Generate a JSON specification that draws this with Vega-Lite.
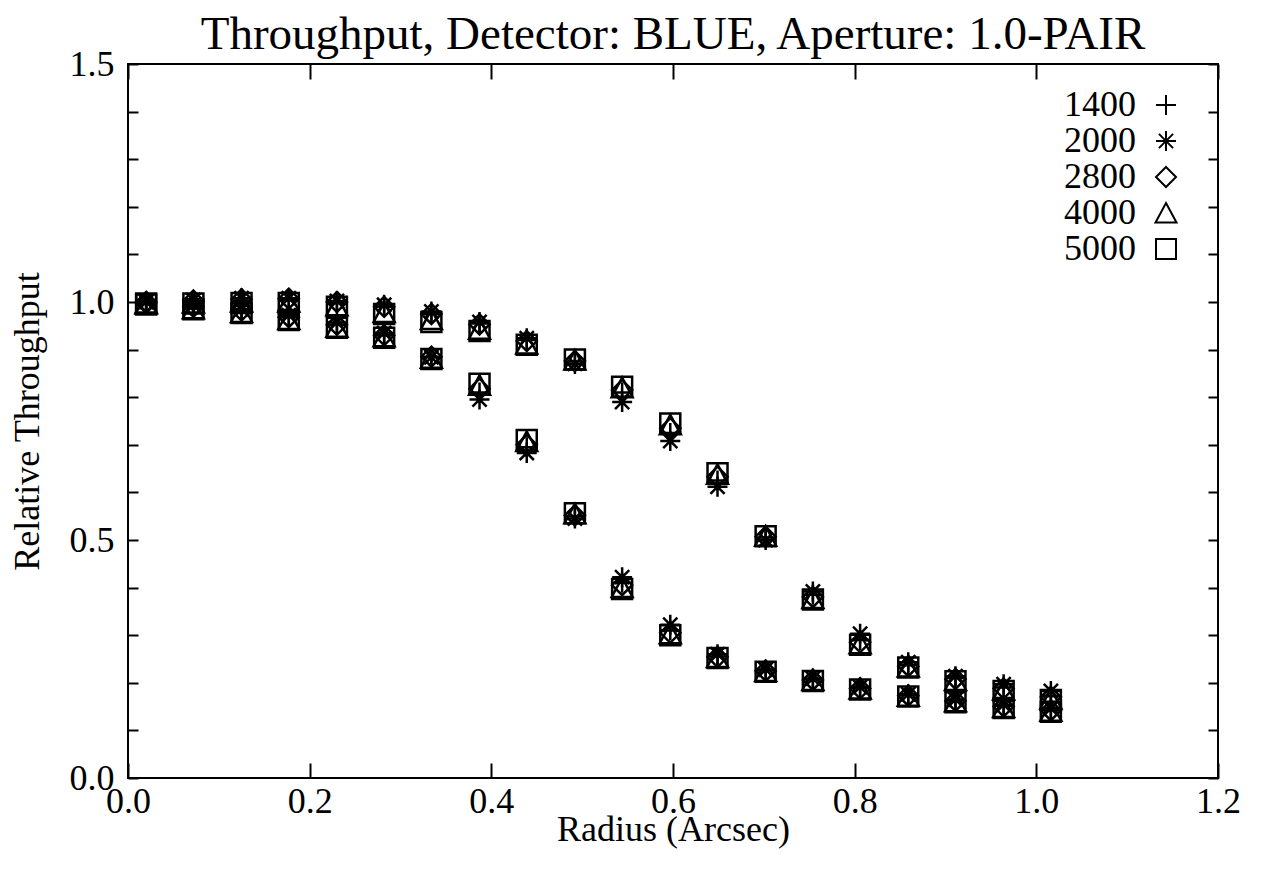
{
  "$schema": "https://vega.github.io/schema/vega-lite/v6.json",
  "width": 1090,
  "height": 714,
  "autosize": {"type": "none"},
  "padding": {"left": 128, "top": 64, "right": 47, "bottom": 93},
  "background": "white",
  "title": {"text": "Throughput, Detector: BLUE, Aperture: 1.0-PAIR", "font": "Liberation Serif", "fontSize": 47, "fontWeight": "normal", "color": "black", "anchor": "middle", "baseline": "alphabetic", "offset": 14, "dy": 64},
  "config": {
    "view": {"stroke": "black", "strokeWidth": 2},
    "axis": {"domain": false, "grid": false, "labelFont": "Liberation Serif", "labelFontSize": 36, "labelColor": "black", "tickColor": "black", "tickWidth": 2, "titleFont": "Liberation Serif", "titleFontSize": 36, "titleFontWeight": "normal", "titleColor": "black", "labelFlush": false, "labelOverlap": false}
  },
  "data": {"values": [
    {"r":0.020,"s":"a","w":"1400","t":1.0},{"r":0.020,"s":"a","w":"2000","t":1.002},{"r":0.020,"s":"a","w":"2800","t":1.0},{"r":0.020,"s":"a","w":"4000","t":0.998},{"r":0.020,"s":"a","w":"5000","t":0.997},
    {"r":0.020,"s":"b","w":"1400","t":0.998},{"r":0.020,"s":"b","w":"2000","t":1.0},{"r":0.020,"s":"b","w":"2800","t":0.998},{"r":0.020,"s":"b","w":"4000","t":0.996},{"r":0.020,"s":"b","w":"5000","t":0.995},
    {"r":0.072,"s":"a","w":"1400","t":1.0},{"r":0.072,"s":"a","w":"2000","t":1.004},{"r":0.072,"s":"a","w":"2800","t":1.003},{"r":0.072,"s":"a","w":"4000","t":0.998},{"r":0.072,"s":"a","w":"5000","t":0.997},
    {"r":0.072,"s":"b","w":"1400","t":0.99},{"r":0.072,"s":"b","w":"2000","t":0.993},{"r":0.072,"s":"b","w":"2800","t":0.99},{"r":0.072,"s":"b","w":"4000","t":0.986},{"r":0.072,"s":"b","w":"5000","t":0.985},
    {"r":0.125,"s":"a","w":"1400","t":1.003},{"r":0.125,"s":"a","w":"2000","t":1.008},{"r":0.125,"s":"a","w":"2800","t":1.006},{"r":0.125,"s":"a","w":"4000","t":1.0},{"r":0.125,"s":"a","w":"5000","t":0.998},
    {"r":0.125,"s":"b","w":"1400","t":0.982},{"r":0.125,"s":"b","w":"2000","t":0.985},{"r":0.125,"s":"b","w":"2800","t":0.982},{"r":0.125,"s":"b","w":"4000","t":0.978},{"r":0.125,"s":"b","w":"5000","t":0.977},
    {"r":0.177,"s":"a","w":"1400","t":1.004},{"r":0.177,"s":"a","w":"2000","t":1.008},{"r":0.177,"s":"a","w":"2800","t":1.007},{"r":0.177,"s":"a","w":"4000","t":1.0},{"r":0.177,"s":"a","w":"5000","t":0.998},
    {"r":0.177,"s":"b","w":"1400","t":0.968},{"r":0.177,"s":"b","w":"2000","t":0.972},{"r":0.177,"s":"b","w":"2800","t":0.968},{"r":0.177,"s":"b","w":"4000","t":0.963},{"r":0.177,"s":"b","w":"5000","t":0.962},
    {"r":0.230,"s":"a","w":"1400","t":0.998},{"r":0.230,"s":"a","w":"2000","t":1.002},{"r":0.230,"s":"a","w":"2800","t":1.0},{"r":0.230,"s":"a","w":"4000","t":0.992},{"r":0.230,"s":"a","w":"5000","t":0.99},
    {"r":0.230,"s":"b","w":"1400","t":0.952},{"r":0.230,"s":"b","w":"2000","t":0.957},{"r":0.230,"s":"b","w":"2800","t":0.952},{"r":0.230,"s":"b","w":"4000","t":0.947},{"r":0.230,"s":"b","w":"5000","t":0.946},
    {"r":0.282,"s":"a","w":"1400","t":0.99},{"r":0.282,"s":"a","w":"2000","t":0.994},{"r":0.282,"s":"a","w":"2800","t":0.99},{"r":0.282,"s":"a","w":"4000","t":0.978},{"r":0.282,"s":"a","w":"5000","t":0.975},
    {"r":0.282,"s":"b","w":"1400","t":0.93},{"r":0.282,"s":"b","w":"2000","t":0.935},{"r":0.282,"s":"b","w":"2800","t":0.93},{"r":0.282,"s":"b","w":"4000","t":0.927},{"r":0.282,"s":"b","w":"5000","t":0.925},
    {"r":0.334,"s":"a","w":"1400","t":0.975},{"r":0.334,"s":"a","w":"2000","t":0.98},{"r":0.334,"s":"a","w":"2800","t":0.975},{"r":0.334,"s":"a","w":"4000","t":0.963},{"r":0.334,"s":"a","w":"5000","t":0.958},
    {"r":0.334,"s":"b","w":"1400","t":0.885},{"r":0.334,"s":"b","w":"2000","t":0.884},{"r":0.334,"s":"b","w":"2800","t":0.885},{"r":0.334,"s":"b","w":"4000","t":0.882},{"r":0.334,"s":"b","w":"5000","t":0.88},
    {"r":0.387,"s":"a","w":"1400","t":0.955},{"r":0.387,"s":"a","w":"2000","t":0.958},{"r":0.387,"s":"a","w":"2800","t":0.953},{"r":0.387,"s":"a","w":"4000","t":0.943},{"r":0.387,"s":"a","w":"5000","t":0.939},
    {"r":0.387,"s":"b","w":"1400","t":0.81},{"r":0.387,"s":"b","w":"2000","t":0.795},{"r":0.387,"s":"b","w":"2800","t":0.818},{"r":0.387,"s":"b","w":"4000","t":0.825},{"r":0.387,"s":"b","w":"5000","t":0.828},
    {"r":0.439,"s":"a","w":"1400","t":0.92},{"r":0.439,"s":"a","w":"2000","t":0.924},{"r":0.439,"s":"a","w":"2800","t":0.918},{"r":0.439,"s":"a","w":"4000","t":0.912},{"r":0.439,"s":"a","w":"5000","t":0.91},
    {"r":0.439,"s":"b","w":"1400","t":0.695},{"r":0.439,"s":"b","w":"2000","t":0.683},{"r":0.439,"s":"b","w":"2800","t":0.70},{"r":0.439,"s":"b","w":"4000","t":0.707},{"r":0.439,"s":"b","w":"5000","t":0.71},
    {"r":0.492,"s":"a","w":"1400","t":0.875},{"r":0.492,"s":"a","w":"2000","t":0.87},{"r":0.492,"s":"a","w":"2800","t":0.876},{"r":0.492,"s":"a","w":"4000","t":0.878},{"r":0.492,"s":"a","w":"5000","t":0.879},
    {"r":0.492,"s":"b","w":"1400","t":0.55},{"r":0.492,"s":"b","w":"2000","t":0.545},{"r":0.492,"s":"b","w":"2800","t":0.552},{"r":0.492,"s":"b","w":"4000","t":0.555},{"r":0.492,"s":"b","w":"5000","t":0.556},
    {"r":0.544,"s":"a","w":"1400","t":0.81},{"r":0.544,"s":"a","w":"2000","t":0.79},{"r":0.544,"s":"a","w":"2800","t":0.815},{"r":0.544,"s":"a","w":"4000","t":0.82},{"r":0.544,"s":"a","w":"5000","t":0.822},
    {"r":0.544,"s":"b","w":"1400","t":0.41},{"r":0.544,"s":"b","w":"2000","t":0.422},{"r":0.544,"s":"b","w":"2800","t":0.405},{"r":0.544,"s":"b","w":"4000","t":0.40},{"r":0.544,"s":"b","w":"5000","t":0.397},
    {"r":0.597,"s":"a","w":"1400","t":0.725},{"r":0.597,"s":"a","w":"2000","t":0.708},{"r":0.597,"s":"a","w":"2800","t":0.735},{"r":0.597,"s":"a","w":"4000","t":0.742},{"r":0.597,"s":"a","w":"5000","t":0.745},
    {"r":0.597,"s":"b","w":"1400","t":0.31},{"r":0.597,"s":"b","w":"2000","t":0.322},{"r":0.597,"s":"b","w":"2800","t":0.305},{"r":0.597,"s":"b","w":"4000","t":0.303},{"r":0.597,"s":"b","w":"5000","t":0.30},
    {"r":0.649,"s":"a","w":"1400","t":0.625},{"r":0.649,"s":"a","w":"2000","t":0.612},{"r":0.649,"s":"a","w":"2800","t":0.633},{"r":0.649,"s":"a","w":"4000","t":0.638},{"r":0.649,"s":"a","w":"5000","t":0.64},
    {"r":0.649,"s":"b","w":"1400","t":0.255},{"r":0.649,"s":"b","w":"2000","t":0.26},{"r":0.649,"s":"b","w":"2800","t":0.254},{"r":0.649,"s":"b","w":"4000","t":0.253},{"r":0.649,"s":"b","w":"5000","t":0.252},
    {"r":0.702,"s":"a","w":"1400","t":0.505},{"r":0.702,"s":"a","w":"2000","t":0.50},{"r":0.702,"s":"a","w":"2800","t":0.507},{"r":0.702,"s":"a","w":"4000","t":0.508},{"r":0.702,"s":"a","w":"5000","t":0.508},
    {"r":0.702,"s":"b","w":"1400","t":0.226},{"r":0.702,"s":"b","w":"2000","t":0.228},{"r":0.702,"s":"b","w":"2800","t":0.225},{"r":0.702,"s":"b","w":"4000","t":0.224},{"r":0.702,"s":"b","w":"5000","t":0.223},
    {"r":0.754,"s":"a","w":"1400","t":0.385},{"r":0.754,"s":"a","w":"2000","t":0.392},{"r":0.754,"s":"a","w":"2800","t":0.38},{"r":0.754,"s":"a","w":"4000","t":0.377},{"r":0.754,"s":"a","w":"5000","t":0.375},
    {"r":0.754,"s":"b","w":"1400","t":0.207},{"r":0.754,"s":"b","w":"2000","t":0.209},{"r":0.754,"s":"b","w":"2800","t":0.206},{"r":0.754,"s":"b","w":"4000","t":0.205},{"r":0.754,"s":"b","w":"5000","t":0.204},
    {"r":0.806,"s":"a","w":"1400","t":0.29},{"r":0.806,"s":"a","w":"2000","t":0.303},{"r":0.806,"s":"a","w":"2800","t":0.285},{"r":0.806,"s":"a","w":"4000","t":0.282},{"r":0.806,"s":"a","w":"5000","t":0.28},
    {"r":0.806,"s":"b","w":"1400","t":0.189},{"r":0.806,"s":"b","w":"2000","t":0.191},{"r":0.806,"s":"b","w":"2800","t":0.188},{"r":0.806,"s":"b","w":"4000","t":0.187},{"r":0.806,"s":"b","w":"5000","t":0.186},
    {"r":0.859,"s":"a","w":"1400","t":0.237},{"r":0.859,"s":"a","w":"2000","t":0.243},{"r":0.859,"s":"a","w":"2800","t":0.235},{"r":0.859,"s":"a","w":"4000","t":0.233},{"r":0.859,"s":"a","w":"5000","t":0.232},
    {"r":0.859,"s":"b","w":"1400","t":0.174},{"r":0.859,"s":"b","w":"2000","t":0.176},{"r":0.859,"s":"b","w":"2800","t":0.173},{"r":0.859,"s":"b","w":"4000","t":0.172},{"r":0.859,"s":"b","w":"5000","t":0.171},
    {"r":0.911,"s":"a","w":"1400","t":0.21},{"r":0.911,"s":"a","w":"2000","t":0.214},{"r":0.911,"s":"a","w":"2800","t":0.208},{"r":0.911,"s":"a","w":"4000","t":0.205},{"r":0.911,"s":"a","w":"5000","t":0.203},
    {"r":0.911,"s":"b","w":"1400","t":0.163},{"r":0.911,"s":"b","w":"2000","t":0.165},{"r":0.911,"s":"b","w":"2800","t":0.162},{"r":0.911,"s":"b","w":"4000","t":0.16},{"r":0.911,"s":"b","w":"5000","t":0.159},
    {"r":0.964,"s":"a","w":"1400","t":0.19},{"r":0.964,"s":"a","w":"2000","t":0.197},{"r":0.964,"s":"a","w":"2800","t":0.188},{"r":0.964,"s":"a","w":"4000","t":0.185},{"r":0.964,"s":"a","w":"5000","t":0.183},
    {"r":0.964,"s":"b","w":"1400","t":0.152},{"r":0.964,"s":"b","w":"2000","t":0.154},{"r":0.964,"s":"b","w":"2800","t":0.15},{"r":0.964,"s":"b","w":"4000","t":0.148},{"r":0.964,"s":"b","w":"5000","t":0.147},
    {"r":1.016,"s":"a","w":"1400","t":0.172},{"r":1.016,"s":"a","w":"2000","t":0.183},{"r":1.016,"s":"a","w":"2800","t":0.17},{"r":1.016,"s":"a","w":"4000","t":0.166},{"r":1.016,"s":"a","w":"5000","t":0.164},
    {"r":1.016,"s":"b","w":"1400","t":0.143},{"r":1.016,"s":"b","w":"2000","t":0.146},{"r":1.016,"s":"b","w":"2800","t":0.142},{"r":1.016,"s":"b","w":"4000","t":0.14},{"r":1.016,"s":"b","w":"5000","t":0.139}
  ]},
  "layer": [
    {
      "transform": [{"filter": "datum.s == 'a'"}],
      "mark": {"type": "point", "filled": false, "strokeWidth": 2.5, "size": 400, "color": "black", "opacity": 1},
      "encoding": {
        "x": {"field": "r", "type": "quantitative", "scale": {"domain": [0, 1.2], "nice": false, "zero": false},
              "axis": {"orient": "bottom", "values": [0, 0.2, 0.4, 0.6, 0.8, 1.0, 1.2], "format": ".1f", "title": "Radius (Arcsec)", "tickSize": -15, "labelPadding": 21, "titleBaseline": "alphabetic", "titleY": 62}},
        "y": {"field": "t", "type": "quantitative", "scale": {"domain": [0, 1.5], "nice": false, "zero": false},
              "axis": {"orient": "left", "values": [0, 0.1, 0.2, 0.3, 0.4, 0.5, 0.6, 0.7, 0.8, 0.9, 1.0, 1.1, 1.2, 1.3, 1.4, 1.5], "format": ".1f",
                       "labelExpr": "indexof(['0.0','0.5','1.0','1.5'], datum.label) >= 0 ? datum.label : ''",
                       "title": "Relative Throughput", "tickSize": -10, "labelPadding": 24, "titleBaseline": "alphabetic", "titleX": -90}},
        "shape": {"field": "w", "type": "nominal",
                  "scale": {"domain": ["1400", "2000", "2800", "4000", "5000"],
                            "range": ["M-1,0L1,0M0,-1L0,1", "M-1,0L1,0M0,-1L0,1M-0.71,-0.71L0.71,0.71M-0.71,0.71L0.71,-0.71", "M0,-1L1,0L0,1L-1,0Z", "M0,-1L1.05,0.95L-1.05,0.95Z", "M-1,-1L1,-1L1,1L-1,1Z"]},
                  "legend": {"title": null, "orient": "none", "legendX": 1020, "legendY": 23, "padding": 0, "labelFont": "Liberation Serif", "labelFontSize": 36, "labelColor": "black", "labelAlign": "right", "labelOffset": -48, "symbolSize": 400, "symbolStrokeWidth": 2, "symbolStrokeColor": "black", "symbolFillColor": "transparent", "rowPadding": 0}}
      }
    },
    {
      "transform": [{"filter": "datum.s == 'b'"}],
      "mark": {"type": "point", "filled": false, "strokeWidth": 2.5, "size": 400, "color": "black", "opacity": 1},
      "encoding": {
        "x": {"field": "r", "type": "quantitative",
              "axis": {"orient": "top", "values": [0, 0.2, 0.4, 0.6, 0.8, 1.0, 1.2], "labels": false, "title": null, "tickSize": -15}},
        "y": {"field": "t", "type": "quantitative",
              "axis": {"orient": "right", "values": [0, 0.1, 0.2, 0.3, 0.4, 0.5, 0.6, 0.7, 0.8, 0.9, 1.0, 1.1, 1.2, 1.3, 1.4, 1.5], "labels": false, "title": null, "tickSize": -10}},
        "shape": {"field": "w", "type": "nominal"}
      }
    }
  ],
  "resolve": {"axis": {"x": "independent", "y": "independent"}}
}
